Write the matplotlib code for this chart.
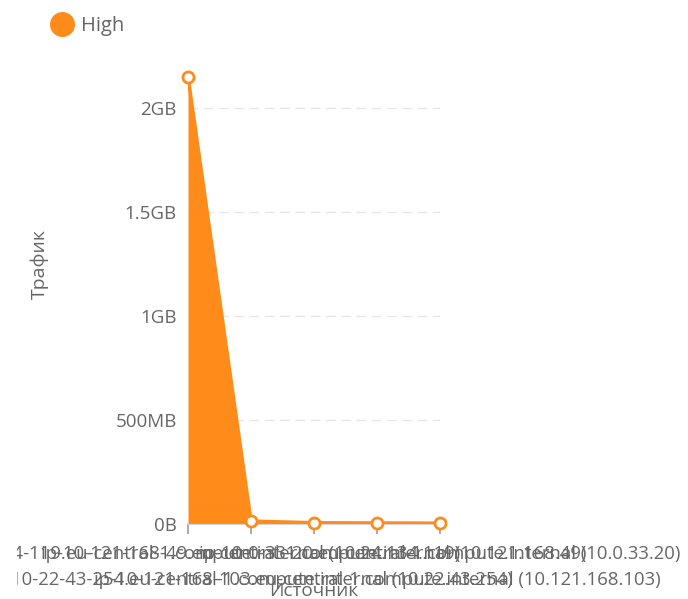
import matplotlib
matplotlib.use("Agg")
import matplotlib.pyplot as plt
from matplotlib.lines import Line2D
from matplotlib.transforms import Bbox, TransformedBbox

# data (traffic in MB per source host)
sources = [
    "ip-10-24-134-119.eu-central-1.compute.internal (10.24.134.119)",
    "ip-10-22-43-254.eu-central-1.compute.internal (10.22.43.254)",
    "ip-10-121-168-49.eu-central-1.compute.internal (10.121.168.49)",
    "ip-10-121-168-103.eu-central-1.compute.internal (10.121.168.103)",
    "ip-10-0-33-20.eu-central-1.compute.internal (10.0.33.20)",
]
traffic_mb = [2150, 14, 6, 5, 4]
series_name = "High"
y_ticks = [0, 500, 1000, 1500, 2000]
y_tick_labels = ["0B", "500MB", "1GB", "1.5GB", "2GB"]

orange = "#ff8c1a"
grey_text = "#666666"

plt.rcParams['font.family'] = ['Open Sans', 'DejaVu Sans']

fig = plt.figure(figsize=(6.88, 5.99), dpi=100)
ax = fig.add_axes([188 / 688, 75 / 599, 252 / 688, 457.6 / 599])

x = list(range(len(sources)))
ax.fill_between(x, traffic_mb, 0, color=orange, linewidth=0, zorder=2)
ax.plot(x, traffic_mb, color=orange, linewidth=2.5, zorder=3)
ax.plot(x, traffic_mb, linestyle='', marker='o', markersize=8,
        markerfacecolor='white', markeredgecolor=orange, markeredgewidth=2,
        zorder=4, clip_on=False)

ax.set_xlim(0, len(sources) - 1)
ax.set_ylim(0, 2200)

# staggered x labels, two rows (they overlap like in the original dashboard)
ax.set_xticks(x)
ax.set_xticklabels([s if i % 2 == 0 else "\n" + s for i, s in enumerate(sources)],
                   fontsize=13.3, color=grey_text)
clip = TransformedBbox(Bbox.from_extents(17 / 688, 0, 1, 1), fig.transFigure)
for lbl in ax.get_xticklabels():
    lbl.set_linespacing(1.6)
    lbl.set_clip_on(True)
    lbl.set_clip_box(clip)
ax.tick_params(axis='x', length=7, width=1.4, color='#aaaaaa', pad=8)

ax.set_yticks(y_ticks)
ax.set_yticklabels(y_tick_labels, fontsize=13.5, color=grey_text)
ax.tick_params(axis='y', length=0, pad=8)

ax.grid(axis='y', color='#e6e6e6', linestyle=(0, (7, 4)), linewidth=1, zorder=0)
ax.set_axisbelow(True)
for side in ['top', 'right', 'left']:
    ax.spines[side].set_visible(False)
ax.spines['bottom'].set_color('#ccd6eb')

fig.text(40 / 688, 1 - 264 / 599, "Трафик", rotation=90, ha='center', va='center',
         fontsize=14, color=grey_text)
fig.text(314 / 688, 1 - 591 / 599, "Источник", ha='center', va='center',
         fontsize=13.7, color=grey_text)

handle = Line2D([], [], linestyle='', marker='o', markersize=17, color=orange)
fig.legend([handle], [series_name], loc='center left',
           bbox_to_anchor=(37 / 688, 1 - 26 / 599), frameon=False,
           fontsize=14.5, labelcolor=grey_text, handletextpad=0.2,
           borderpad=0, handlelength=1.5)

fig.savefig("out.png", dpi=100)
